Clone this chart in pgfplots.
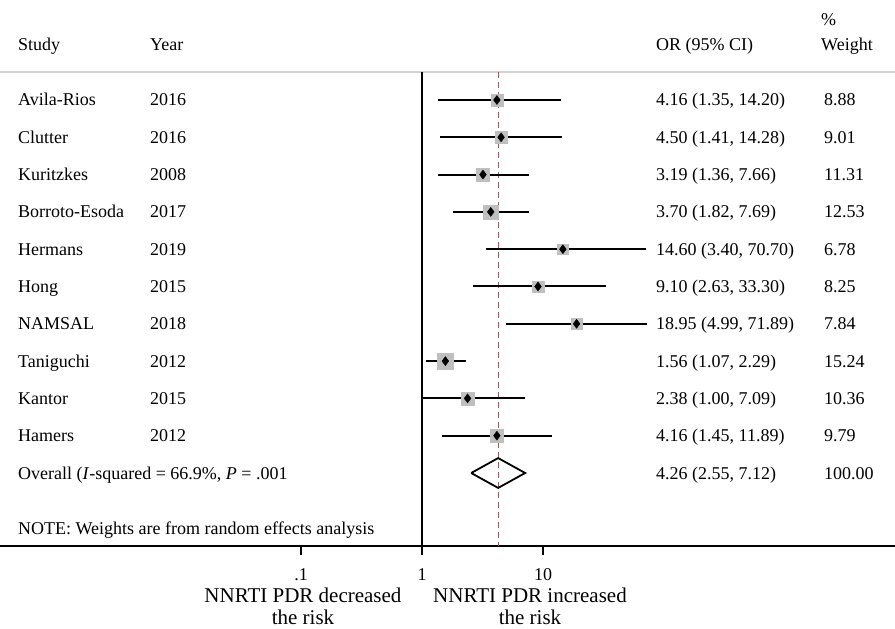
\documentclass[border=0pt]{standalone}
\usepackage{pgfplots}
\pgfplotsset{compat=1.18}
\usepackage{pgfplotstable}
\usepackage{fontspec}
\setmainfont{Liberation Serif}
\newcommand\fs{\fontsize{18}{21}\selectfont}
\newcommand\fsb{\fontsize{21}{24}\selectfont}
\definecolor{refred}{RGB}{185,80,80}

% row = -(position), or = odds ratio, lo/hi = 95% CI, w = % weight
\pgfplotstableread{
row   or     lo     hi     w
-1    4.16   1.35   14.20  8.88
-2    4.50   1.41   14.28  9.01
-3    3.19   1.36   7.66   11.31
-4    3.70   1.82   7.69   12.53
-5    14.60  3.40   70.70  6.78
-6    9.10   2.63   33.30  8.25
-7    18.95  4.99   71.89  7.84
-8    1.56   1.07   2.29   15.24
-9    2.38   1.00   7.09   10.36
-10   4.16   1.45   11.89  9.79
}\studies

\begin{document}
\fs
\begin{tikzpicture}[every node/.append style={font=\fs},
  tx/.style={anchor=base west, inner sep=0pt, yshift=-6pt}]
\useasboundingbox (0,0) rectangle (895pt,629pt);
\begin{axis}[
  at={(0,83pt)}, anchor=south west,
  width=895pt, height=546pt, scale only axis,
  xmode=log, xmin=3.254e-4, xmax=8110,
  ymin=-12.957, ymax=1.681,
  axis x line=bottom, axis y line=none,
  x axis line style={-, line width=1.2pt},
  xtick={0.1,1,10}, xticklabels={.1,1,10},
  xminorticks=false,
  tick align=outside, major tick length=9pt,
  tick style={black, line width=1.2pt},
  xticklabel style={font=\fs, anchor=base, yshift=-26pt},
  clip=false,
]
% header rule
\draw[gray!35, line width=1.8pt] (rel axis cs:0,0.8681) -- (rel axis cs:1,0.8681);
% null line
\addplot[black, line width=1.2pt] coordinates {(1,-0.249) (1,-12.957)};
% overall estimate line
\addplot[refred, line width=1.1pt, dash pattern=on 6pt off 4pt] coordinates {(4.26,-0.249) (4.26,-12.957)};
% weight squares
\addplot[scatter, only marks, mark=square*,
  scatter/use mapped color={draw=gray!50, fill=gray!50},
  visualization depends on={2.0*sqrt(\thisrow{w}) \as \msz},
  scatter/@pre marker code/.append style={/tikz/mark size=\msz pt}]
  table[x=or, y=row] {\studies};
% confidence intervals
\addplot[black, line width=2pt] coordinates {(1.35,-1) (14.20,-1)};
\addplot[black, line width=2pt] coordinates {(1.41,-2) (14.28,-2)};
\addplot[black, line width=2pt] coordinates {(1.36,-3) (7.66,-3)};
\addplot[black, line width=2pt] coordinates {(1.82,-4) (7.69,-4)};
\addplot[black, line width=2pt] coordinates {(3.40,-5) (70.70,-5)};
\addplot[black, line width=2pt] coordinates {(2.63,-6) (33.30,-6)};
\addplot[black, line width=2pt] coordinates {(4.99,-7) (71.89,-7)};
\addplot[black, line width=2pt] coordinates {(1.07,-8) (2.29,-8)};
\addplot[black, line width=2pt] coordinates {(1.00,-9) (7.09,-9)};
\addplot[black, line width=2pt] coordinates {(1.45,-10) (11.89,-10)};
% point estimates
\addplot[only marks, mark=diamond*, mark size=4.5pt, black] table[x=or, y=row] {\studies};
% overall diamond
\addplot[black, line width=1.8pt, line join=miter] coordinates {(2.55,-11) (4.26,-10.6) (7.12,-11) (4.26,-11.4) (2.55,-11)};

% header
\node[tx] at (axis cs:1,0.501) [xshift=-404pt] {Study};
\node[tx] at (axis cs:1,0.501) [xshift=-272pt] {Year};
\node[tx] at (axis cs:1,0.501) [xshift=234pt] {OR (95\% CI)};
\node[tx] at (axis cs:1,0.501) [xshift=399pt] {Weight};
\node[tx] at (axis cs:1,1.17) [xshift=399pt] {\%};

% study names
\node[tx] at (axis cs:1,-1) [xshift=-404pt] {Avila-Rios};
\node[tx] at (axis cs:1,-2) [xshift=-404pt] {Clutter};
\node[tx] at (axis cs:1,-3) [xshift=-404pt] {Kuritzkes};
\node[tx] at (axis cs:1,-4) [xshift=-404pt] {Borroto-Esoda};
\node[tx] at (axis cs:1,-5) [xshift=-404pt] {Hermans};
\node[tx] at (axis cs:1,-6) [xshift=-404pt] {Hong};
\node[tx] at (axis cs:1,-7) [xshift=-404pt] {NAMSAL};
\node[tx] at (axis cs:1,-8) [xshift=-404pt] {Taniguchi};
\node[tx] at (axis cs:1,-9) [xshift=-404pt] {Kantor};
\node[tx] at (axis cs:1,-10) [xshift=-404pt] {Hamers};
\node[tx] at (axis cs:1,-11) [xshift=-404pt] {Overall (\textit{I}-squared = 66.9\%, \textit{P} = .001};
% years
\node[tx] at (axis cs:1,-1) [xshift=-272pt] {2016};
\node[tx] at (axis cs:1,-2) [xshift=-272pt] {2016};
\node[tx] at (axis cs:1,-3) [xshift=-272pt] {2008};
\node[tx] at (axis cs:1,-4) [xshift=-272pt] {2017};
\node[tx] at (axis cs:1,-5) [xshift=-272pt] {2019};
\node[tx] at (axis cs:1,-6) [xshift=-272pt] {2015};
\node[tx] at (axis cs:1,-7) [xshift=-272pt] {2018};
\node[tx] at (axis cs:1,-8) [xshift=-272pt] {2012};
\node[tx] at (axis cs:1,-9) [xshift=-272pt] {2015};
\node[tx] at (axis cs:1,-10) [xshift=-272pt] {2012};
% OR (95% CI)
\node[tx] at (axis cs:1,-1) [xshift=234pt] {4.16 (1.35, 14.20)};
\node[tx] at (axis cs:1,-2) [xshift=234pt] {4.50 (1.41, 14.28)};
\node[tx] at (axis cs:1,-3) [xshift=234pt] {3.19 (1.36, 7.66)};
\node[tx] at (axis cs:1,-4) [xshift=234pt] {3.70 (1.82, 7.69)};
\node[tx] at (axis cs:1,-5) [xshift=234pt] {14.60 (3.40, 70.70)};
\node[tx] at (axis cs:1,-6) [xshift=234pt] {9.10 (2.63, 33.30)};
\node[tx] at (axis cs:1,-7) [xshift=234pt] {18.95 (4.99, 71.89)};
\node[tx] at (axis cs:1,-8) [xshift=234pt] {1.56 (1.07, 2.29)};
\node[tx] at (axis cs:1,-9) [xshift=234pt] {2.38 (1.00, 7.09)};
\node[tx] at (axis cs:1,-10) [xshift=234pt] {4.16 (1.45, 11.89)};
\node[tx] at (axis cs:1,-11) [xshift=234pt] {4.26 (2.55, 7.12)};
% weights
\node[tx] at (axis cs:1,-1) [xshift=402pt] {8.88};
\node[tx] at (axis cs:1,-2) [xshift=402pt] {9.01};
\node[tx] at (axis cs:1,-3) [xshift=402pt] {11.31};
\node[tx] at (axis cs:1,-4) [xshift=402pt] {12.53};
\node[tx] at (axis cs:1,-5) [xshift=402pt] {6.78};
\node[tx] at (axis cs:1,-6) [xshift=402pt] {8.25};
\node[tx] at (axis cs:1,-7) [xshift=402pt] {7.84};
\node[tx] at (axis cs:1,-8) [xshift=402pt] {15.24};
\node[tx] at (axis cs:1,-9) [xshift=402pt] {10.36};
\node[tx] at (axis cs:1,-10) [xshift=402pt] {9.79};
\node[tx] at (axis cs:1,-11) [xshift=402pt] {100.00};
% note
\node[tx] at (axis cs:1,-12.5) [xshift=-404pt] {NOTE: Weights are from random effects analysis};
% direction labels
\node[anchor=base, inner sep=0pt, font=\fsb] at (axis cs:1,-12.957) [xshift=-119pt, yshift=-57pt] {NNRTI PDR decreased};
\node[anchor=base, inner sep=0pt, font=\fsb] at (axis cs:1,-12.957) [xshift=-119pt, yshift=-79pt] {the risk};
\node[anchor=base, inner sep=0pt, font=\fsb] at (axis cs:1,-12.957) [xshift=108pt, yshift=-57pt] {NNRTI PDR increased};
\node[anchor=base, inner sep=0pt, font=\fsb] at (axis cs:1,-12.957) [xshift=108pt, yshift=-79pt] {the risk};
\end{axis}
\end{tikzpicture}
\end{document}
